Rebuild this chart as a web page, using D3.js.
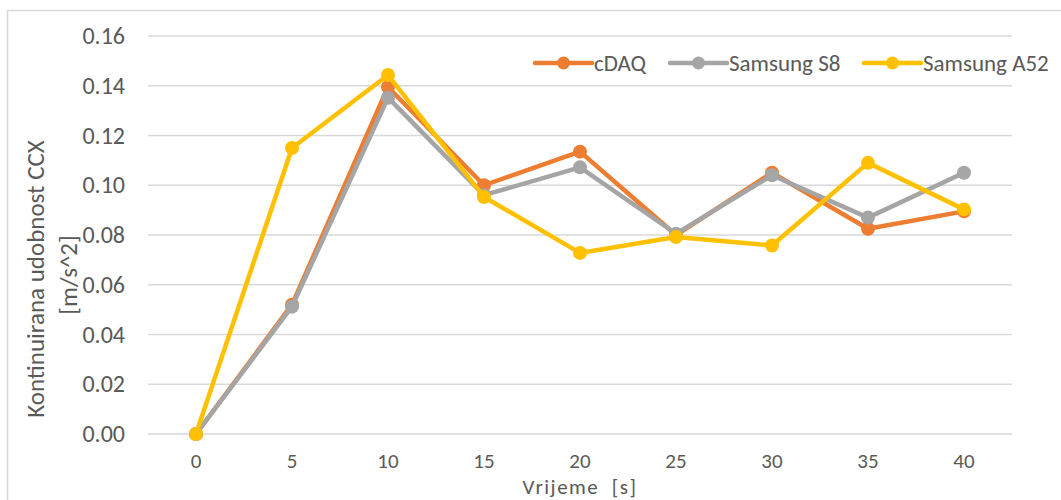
<!DOCTYPE html>
<html>
<head>
<meta charset="utf-8">
<script src="https://cdn.jsdelivr.net/npm/d3@7/dist/d3.min.js"></script>
<style>
  html, body { margin: 0; padding: 0; background: #fff; }
  svg { display: block; }
  text { font-family: Carlito, Lato, "Open Sans", sans-serif; }
</style>
</head>
<body>
<svg id="chart" width="1061" height="500"></svg>
<script>
const categories = ["0", "5", "10", "15", "20", "25", "30", "35", "40"];
const cDAQ      = [0, 0.052, 0.1395, 0.100, 0.1135, 0.080, 0.105, 0.0825, 0.0895];
const samsungS8 = [0, 0.0512, 0.1352, 0.096, 0.1072, 0.0805, 0.104, 0.087, 0.105];
const samsungA52 = [0, 0.115, 0.1443, 0.0953, 0.0728, 0.0792, 0.0758, 0.109, 0.0903];
const yTicks = [0, 0.02, 0.04, 0.06, 0.08, 0.10, 0.12, 0.14, 0.16];
const seriesNames = ["cDAQ", "Samsung S8", "Samsung A52"];
const seriesColors = ["#ED7D31", "#A5A5A5", "#FFC000"];
const seriesValues = [cDAQ, samsungS8, samsungA52];
const xTitle = "Vrijeme  [s]";
const yTitleLines = ["Kontinuirana udobnost CCX", "[m/s^2]"];

const svg = d3.select("#chart");

// outer chart border (top and left visible)
svg.append("path")
  .attr("d", "M7.5,500 L7.5,10.5 L1061,10.5")
  .attr("fill", "none").attr("stroke", "#D9D9D9").attr("stroke-width", 1.5);

const x = d3.scaleBand().domain(categories).range([148, 1012]).paddingInner(0).paddingOuter(0);
const y = d3.scaleLinear().domain([0, 0.16]).range([434, 36]);
const cx = d => x(d) + x.bandwidth() / 2;

// y axis labels
const yAxis = d3.axisLeft(y).tickValues(yTicks).tickFormat(d3.format(".2f")).tickSize(0).tickPadding(23);
const gy = svg.append("g").attr("transform", "translate(148,0)").call(yAxis);
gy.select(".domain").remove();
gy.selectAll("text").attr("fill", "#595959").attr("font-size", 24).attr("font-family", null);

// gridlines
svg.append("g").selectAll("line").data(yTicks).join("line")
  .attr("x1", 148).attr("x2", 1012)
  .attr("y1", d => y(d)).attr("y2", d => y(d))
  .attr("stroke", "#D9D9D9").attr("stroke-width", 1.5);

// x axis labels
const xAxis = d3.axisBottom(x).tickSize(0).tickPadding(0);
const gx = svg.append("g").attr("transform", "translate(0,468)").call(xAxis);
gx.select(".domain").remove();
gx.selectAll("text").attr("fill", "#595959").attr("font-size", 21).attr("font-family", null)
  .attr("y", 0).attr("dy", 0);

// series
const line = d3.line().x((d, i) => cx(categories[i])).y(d => y(d));
seriesValues.forEach((vals, si) => {
  const g = svg.append("g");
  g.append("path").datum(vals)
    .attr("d", line)
    .attr("fill", "none")
    .attr("stroke", seriesColors[si])
    .attr("stroke-width", 4.5)
    .attr("stroke-linejoin", "round")
    .attr("stroke-linecap", "round");
  g.selectAll("circle").data(vals).join("circle")
    .attr("cx", (d, i) => cx(categories[i]))
    .attr("cy", d => y(d))
    .attr("r", 7)
    .attr("fill", seriesColors[si]);
});

// legend
const legendX = [535, 670, 864];
const legend = svg.append("g");
seriesNames.forEach((name, i) => {
  const lg = legend.append("g").attr("transform", `translate(${legendX[i]},63)`);
  lg.append("line").attr("x1", 0).attr("x2", 57).attr("y1", 0).attr("y2", 0)
    .attr("stroke", seriesColors[i]).attr("stroke-width", 4.5).attr("stroke-linecap", "round");
  lg.append("circle").attr("cx", 28.5).attr("cy", 0).attr("r", 6.5).attr("fill", seriesColors[i]);
  lg.append("text").attr("x", 59).attr("y", 8).attr("fill", "#595959").attr("font-size", 23).text(name);
});

// axis titles
svg.append("text")
  .attr("x", 580).attr("y", 494)
  .attr("text-anchor", "middle").attr("fill", "#595959").attr("font-size", 21)
  .attr("letter-spacing", 1.5)
  .attr("xml:space", "preserve").style("white-space", "pre")
  .text(xTitle);

yTitleLines.forEach((t, i) => {
  svg.append("text")
    .attr("transform", `translate(${[44, 77][i]},${[279, 275][i]}) rotate(-90)`)
    .attr("text-anchor", "middle").attr("fill", "#595959").attr("font-size", 25)
    .text(t);
});
</script>
</body>
</html>
